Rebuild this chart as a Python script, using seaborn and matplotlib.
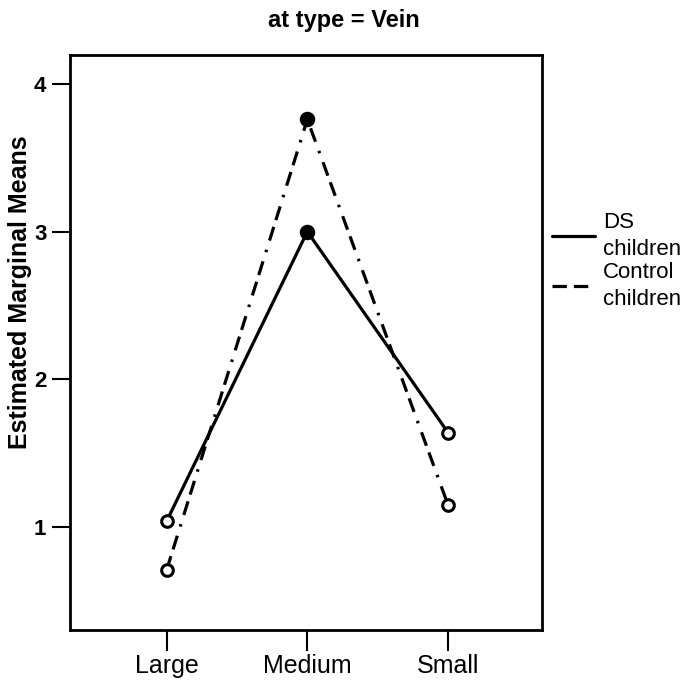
import matplotlib
matplotlib.use("Agg")
import matplotlib.pyplot as plt
import seaborn as sns
import pandas as pd

# Estimated marginal means for vein-type items, by size and group
sizes = ["Large", "Medium", "Small"]
ds_children = [1.04, 3.00, 1.64]
control_children = [0.71, 3.76, 1.15]
groups = ["DS\nchildren", "Control\nchildren"]
y_ticks = [1, 2, 3, 4]

df = pd.DataFrame({
    "size": sizes * 2,
    "mean": ds_children + control_children,
    "group": [groups[0]] * 3 + [groups[1]] * 3,
})
df["pos"] = df["size"].map({s: i for i, s in enumerate(sizes)})

sns.set_theme(style="white")
plt.rcParams["font.family"] = ["Liberation Sans", "DejaVu Sans"]
plt.rcParams["text.color"] = "black"

fig = plt.figure(figsize=(6.88, 6.86), dpi=100)
ax = fig.add_axes([70 / 688, 1 - 630 / 686, (542 - 70) / 688, (630 - 55) / 686])

sns.lineplot(
    data=df, x="pos", y="mean", style="group", style_order=groups,
    dashes={groups[0]: "", groups[1]: (4.5, 2.2, 4.5, 3.0, 0.8, 3.0)},
    color="black", linewidth=2.3, ax=ax, legend=True,
)

# Point markers: open circles, the peak point drawn solid
peak = df["size"] == "Medium"
sns.scatterplot(data=df[~peak], x="pos", y="mean", marker="o", s=70,
                facecolor="white", edgecolor="black", linewidth=2.2,
                ax=ax, legend=False, zorder=5)
sns.scatterplot(data=df[peak], x="pos", y="mean", marker="o", s=80,
                facecolor="black", edgecolor="black", linewidth=2.2,
                ax=ax, legend=False, zorder=5)

ax.set_xlim(-0.687, 2.668)
ax.set_ylim(0.303, 4.196)
ax.set_xticks(range(len(sizes)))
ax.set_xticklabels(sizes, fontsize=18, color="black")
ax.set_yticks(y_ticks)
ax.set_yticklabels([str(t) for t in y_ticks], fontsize=16, fontweight="bold",
                   color="black")
ax.set_xlabel("")
ax.set_ylabel("")
for sp in ax.spines.values():
    sp.set_visible(True)
    sp.set_color("black")
    sp.set_linewidth(2.0)
ax.tick_params(axis="both", direction="out", colors="black", width=1.5,
               length=13, left=True, bottom=True, pad=4)
ax.tick_params(axis="x", length=15, pad=2)

fig.text(0.5, 1 - 20 / 686, "at type = Vein", ha="center", va="center",
         fontsize=17, fontweight="bold", color="black")
fig.text(20 / 688, 1 - 292 / 686, "Estimated Marginal Means", rotation=90,
         ha="center", va="center", fontsize=18, fontweight="bold",
         color="black")

handles, labels = ax.get_legend_handles_labels()
ax.legend_.remove()
leg = fig.legend(handles, labels, loc="upper left",
                 bbox_to_anchor=(552 / 688, 1 - 212 / 686), frameon=False,
                 fontsize=16, handlelength=1.95, handletextpad=0.35,
                 labelspacing=0.08, borderaxespad=0, borderpad=0)
for t in leg.get_texts():
    t.set_linespacing(1.38)
    t.set_color("black")

fig.savefig("out.png", dpi=100, facecolor="white")
